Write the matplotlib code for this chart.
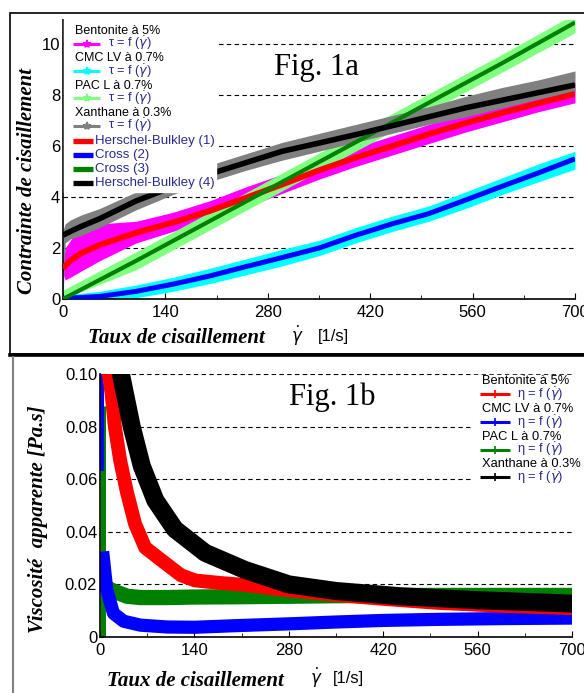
import numpy as np
import matplotlib
matplotlib.use('Agg')
import matplotlib.pyplot as plt
from matplotlib.lines import Line2D
from matplotlib.patches import Rectangle
from matplotlib.ticker import MultipleLocator

# ---- data ----
# Fig. 1a : shear stress vs shear rate
gamma_a = [0, 3, 10, 25, 50, 100, 150, 200, 250, 300, 350, 400, 450, 500, 550, 600, 650, 700]
# bentonite 5 % (measured band + Herschel-Bulkley fit)
bento_lo = [1.0, 0.75, 0.85, 1.1, 1.5, 2.2, 2.65, 3.1, 3.6, 4.15, 4.7, 5.2, 5.65, 6.1, 6.55, 6.95, 7.35, 7.7]
bento_hi = [1.4, 2.0, 2.3, 2.8, 2.95, 3.05, 3.4, 3.85, 4.4, 4.9, 5.45, 5.95, 6.4, 6.85, 7.3, 7.7, 8.1, 8.5]
bento_fit = [1.2, 1.3, 1.5, 1.8, 2.12, 2.6, 3.0, 3.45, 3.97, 4.5, 5.05, 5.55, 6.0, 6.47, 6.9, 7.3, 7.68, 8.05]
# xanthane 0.3 % (measured band + Herschel-Bulkley fit)
xan_lo = [0.0, 2.2, 2.35, 2.5, 2.8, 3.5, 4.1, 4.6, 5.05, 5.45, 5.8, 6.15, 6.5, 6.85, 7.15, 7.5, 7.85, 8.15]
xan_hi = [2.7, 2.95, 3.1, 3.3, 3.55, 4.2, 4.75, 5.25, 5.7, 6.15, 6.5, 6.85, 7.2, 7.55, 7.95, 8.3, 8.6, 8.95]
xan_fit = [2.5, 2.55, 2.65, 2.85, 3.15, 3.85, 4.4, 4.9, 5.35, 5.8, 6.12, 6.45, 6.8, 7.15, 7.5, 7.8, 8.1, 8.4]

gamma_cmc = [0, 50, 100, 150, 200, 250, 300, 350, 400, 450, 500, 550, 600, 650, 700]
cmc_lo = [0.0, 0.0, 0.05, 0.3, 0.6, 0.95, 1.3, 1.7, 2.2, 2.65, 3.05, 3.55, 4.1, 4.6, 5.1]
cmc_hi = [0.15, 0.3, 0.55, 0.85, 1.2, 1.57, 1.95, 2.3, 2.8, 3.25, 3.65, 4.2, 4.75, 5.3, 5.8]
cmc_fit = [0.02, 0.1, 0.3, 0.58, 0.9, 1.27, 1.63, 2.0, 2.5, 2.95, 3.35, 3.88, 4.42, 4.95, 5.5]

gamma_pac = [0, 100, 200, 300, 400, 500, 600, 700]
pac_lo = [0.0, 1.15, 2.7, 4.25, 5.8, 7.35, 8.9, 10.45]
pac_hi = [0.35, 1.85, 3.4, 4.95, 6.5, 8.05, 9.6, 11.2]
pac_fit = [0.0, 1.5, 3.05, 4.6, 6.15, 7.7, 9.25, 10.85]

# Fig. 1b : apparent viscosity vs shear rate
g_bento_b = [13, 17, 22, 30, 40, 52, 67, 92, 120, 141, 180, 215, 279, 350, 420, 500, 600, 700]
eta_bento = [0.1, 0.093, 0.08, 0.067, 0.055, 0.043, 0.034, 0.029, 0.0235, 0.0215, 0.0205, 0.0198, 0.0178,
             0.016, 0.0145, 0.013, 0.0118, 0.011]
g_cmc_spike = [2.5, 2.5]
eta_cmc_spike = [0.1, 0.063]
g_cmc_b = [5, 10, 20, 35, 60, 100, 140, 200, 280, 350, 420, 500, 600, 700]
eta_cmc = [0.03, 0.018, 0.009, 0.006, 0.0045, 0.0038, 0.0037, 0.0043, 0.005, 0.0057, 0.0063, 0.0067, 0.007, 0.0072]
g_pac_spike = [4.5, 4.5]
eta_pac_spike = [0.088, 0.0]
g_pac_b = [5, 15, 25, 40, 60, 100, 140, 200, 280, 350, 420, 500, 600, 700]
eta_pac = [0.02, 0.018, 0.017, 0.0155, 0.015, 0.015, 0.0152, 0.0153, 0.0155, 0.0157, 0.0158, 0.0158, 0.0158, 0.0158]
g_xan_b = [31, 47, 62, 82, 111, 156, 215, 280, 350, 445, 560, 700]
eta_xan = [0.1, 0.08, 0.065, 0.052, 0.041, 0.032, 0.0255, 0.02, 0.0175, 0.0155, 0.014, 0.0127]

x_ticks = [0, 140, 280, 420, 560, 700]
tau_ticks = [0, 2, 4, 6, 8, 10]
eta_ticks = [0, 0.02, 0.04, 0.06, 0.08, 0.10]
eta_labels = ['0', '0.02', '0.04', '0.06', '0.08', '0.10']

materials = ['Bentonite à 5%', 'CMC LV à 0.7%', 'PAC L à 0.7%', 'Xanthane à 0.3%']
fit_names = ['Herschel-Bulkley (1)', 'Cross (2)', 'Cross (3)', 'Herschel-Bulkley (4)']

W, H = 584, 693


def fx(px):
    return px / W


def fy(py):
    return 1 - py / H


SANS = 'Liberation Sans'
SERIF = 'Liberation Serif'
NAVY = '#2a2a8a'

fig = plt.figure(figsize=(W / 100, H / 100), dpi=100)

# ---------------- Fig. 1a ----------------
ax1 = fig.add_axes([fx(63), fy(299), (575 - 63) / W, (299 - 20) / H])
ax1.set_xlim(0, 700)
ax1.set_ylim(0, 10.95)
for y in tau_ticks[1:]:
    ax1.axhline(y, color='black', lw=0.8, ls=(0, (4, 3)), zorder=1)

band_cols = ['#ff00ff', '#00ffff', '#80ff80', '#808080']
fit_cols = ['#ff0000', '#0000ff', '#008000', '#000000']
ax1.fill_between(gamma_a, bento_lo, bento_hi, color=band_cols[0], lw=0, zorder=2)
ax1.fill_between(gamma_cmc, cmc_lo, cmc_hi, color=band_cols[1], lw=0, zorder=2)
ax1.fill_between(gamma_pac, pac_lo, pac_hi, color=band_cols[2], lw=0, zorder=2)
ax1.fill_between(gamma_a, xan_lo, xan_hi, color=band_cols[3], lw=0, zorder=2)
ax1.plot(gamma_a, bento_fit, color=fit_cols[0], lw=4.3, zorder=3, solid_capstyle='butt')
ax1.plot(gamma_cmc, cmc_fit, color=fit_cols[1], lw=3.6, zorder=3, solid_capstyle='butt')
ax1.plot(gamma_pac, pac_fit, color=fit_cols[2], lw=3.0, zorder=3, solid_capstyle='butt')
ax1.plot(gamma_a, xan_fit, color=fit_cols[3], lw=4.0, zorder=3, solid_capstyle='butt')

# ---------------- Fig. 1b ----------------
ax2 = fig.add_axes([fx(100), fy(637), (572 - 100) / W, (637 - 374) / H])
ax2.set_xlim(0, 700)
ax2.set_ylim(0, 0.1)
for y in eta_ticks[1:]:
    ax2.axhline(y, color='black', lw=0.8, ls=(0, (4, 3)), zorder=1)

visc_cols = ['#ff0000', '#0000ff', '#008000', '#000000']
ax2.plot(g_pac_spike, eta_pac_spike, color=visc_cols[2], lw=3.6, zorder=2, solid_capstyle='butt')
ax2.plot(g_pac_b, eta_pac, color=visc_cols[2], lw=11, zorder=2)
ax2.plot(g_cmc_spike, eta_cmc_spike, color=visc_cols[1], lw=3.0, zorder=2, solid_capstyle='butt')
ax2.plot(g_cmc_b, eta_cmc, color=visc_cols[1], lw=9.5, zorder=2)
ax2.plot(g_bento_b, eta_bento, color=visc_cols[0], lw=10, zorder=3)
ax2.plot(g_xan_b, eta_xan, color=visc_cols[3], lw=13, zorder=4)

for ax, yt, yl, fs in [(ax1, tau_ticks, [str(t) for t in tau_ticks], 12),
                       (ax2, eta_ticks, eta_labels, 12)]:
    for s in ['top', 'right']:
        ax.spines[s].set_visible(False)
    for s in ['left', 'bottom']:
        ax.spines[s].set_linewidth(1.2)
    ax.set_xticks(x_ticks)
    ax.set_xticklabels([str(t) for t in x_ticks])
    ax.xaxis.set_minor_locator(MultipleLocator(70))
    ax.set_yticks(yt)
    ax.set_yticklabels(yl)
    ax.tick_params(axis='both', which='both', direction='in', labelsize=fs)
    ax.tick_params(axis='x', which='major', length=4, pad=4)
    ax.tick_params(axis='x', which='minor', length=3)
    ax.tick_params(axis='y', length=3, pad=2)
    for lab in ax.get_xticklabels() + ax.get_yticklabels():
        lab.set_family(SANS)
    ax.set_facecolor('none')


# ---------------- legends (drawn in figure pixels) ----------------
def fig_line(x0, x1, y, color, lw, marker=None, zorder=6):
    fig.add_artist(Line2D([fx(x0), fx(x1)], [fy(y), fy(y)], color=color, lw=lw,
                          transform=fig.transFigure, zorder=zorder, solid_capstyle='butt'))
    if marker:
        fig.add_artist(Line2D([fx((x0 + x1) / 2)], [fy(y)], color=color, marker=marker, ms=6,
                              mew=1.2, transform=fig.transFigure, zorder=zorder))


fig.add_artist(Rectangle((fx(63.5), fy(192)), fx(216) - fx(63.5), fy(20) - fy(192),
                         transform=fig.transFigure, color='white', zorder=5))
for i, name in enumerate(materials):
    yt = 31 + i * 27.4
    fig.text(fx(75), fy(yt), name, family=SANS, size=9, va='center', ha='left', zorder=7)
    fig_line(73, 100, yt + 12.5, band_cols[i], 2.2, marker='*')
    fig.text(fx(108), fy(yt + 12.5), r'τ = f ($\dot{\gamma}$)', family=SANS, size=9.2,
             color=NAVY, va='center', ha='left', zorder=7)
for i, name in enumerate(fit_names):
    yt = 141 + i * 14
    fig_line(73, 93, yt, fit_cols[i], 3.8)
    fig.text(fx(95), fy(yt), name, family=SANS, size=9.5, color=NAVY,
             va='center', ha='left', zorder=7)

fig.add_artist(Rectangle((fx(472), fy(493)), fx(590) - fx(472), fy(375) - fy(493),
                         transform=fig.transFigure, color='white', zorder=5))
for i, name in enumerate(materials):
    yt = 381 + i * 27.8
    fig.text(fx(482), fy(yt), name, family=SANS, size=9.3, va='center', ha='left', zorder=7)
    fig_line(480, 510, yt + 13, visc_cols[i], 2.2, marker='+')
    fig.text(fx(517), fy(yt + 13), r'η = f ($\dot{\gamma}$)', family=SANS, size=9.3,
             color=NAVY, va='center', ha='left', zorder=7)

# ---------------- titles and axis labels ----------------
lab_kw = dict(family=SERIF, weight='bold', style='italic', size=15)
fig.text(fx(316), fy(67), 'Fig. 1a', family=SERIF, size=22, ha='center', va='center')
fig.text(fx(332), fy(397), 'Fig. 1b', family=SERIF, size=22, ha='center', va='center')

fig.text(fx(27), fy(181), 'Contrainte de cisaillement', rotation=90, ha='center', va='center', **lab_kw)
fig.text(fx(88), fy(338), 'Taux de cisaillement', ha='left', va='center', **lab_kw)
fig.text(fx(297), fy(336), r'$\dot{\gamma}$', ha='center', va='center', size=12)
fig.text(fx(318), fy(337), '[1/s]', family=SANS, ha='left', va='center', size=12)

fig.text(fx(38), fy(519), 'Viscosité  apparente [Pa.s]', rotation=90, ha='center', va='center', **lab_kw)
fig.text(fx(107), fy(681), 'Taux de cisaillement', ha='left', va='center', **lab_kw)
fig.text(fx(316), fy(678), r'$\dot{\gamma}$', ha='center', va='center', size=12)
fig.text(fx(333), fy(679), '[1/s]', family=SANS, ha='left', va='center', size=12)

# ---------------- panel frames ----------------
fig.add_artist(Rectangle((fx(10), fy(354)), fx(600) - fx(10), fy(13) - fy(354),
                         transform=fig.transFigure, fill=False, ec='black', lw=1.2, zorder=8))
fig.add_artist(Line2D([fx(10), 1], [fy(354.5), fy(354.5)], color='black', lw=2.6,
                      transform=fig.transFigure, zorder=8))
fig.add_artist(Line2D([fx(13), fx(13)], [fy(357), 0], color='#808080', lw=1.5,
                      transform=fig.transFigure, zorder=8))

fig.savefig('out.png', dpi=100)
